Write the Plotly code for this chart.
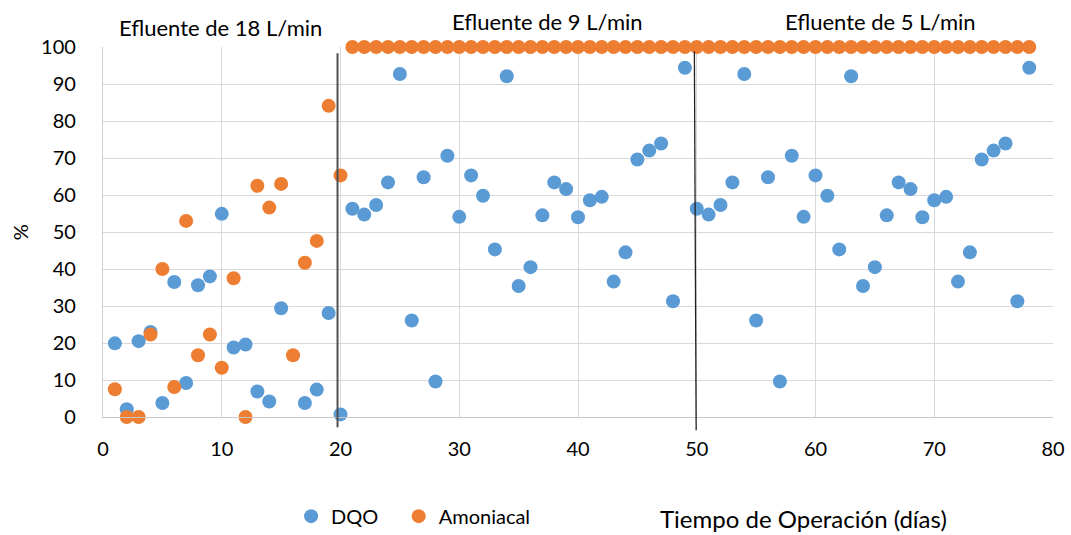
import plotly.graph_objects as go

days = list(range(1, 79))

dqo = [19.9, 2.1, 20.5, 23.0, 3.8, 36.5, 9.2, 35.6, 38.0, 54.9,
       18.8, 19.6, 6.9, 4.2, 29.4, None, 3.8, 7.4, 28.1, 0.7,
       56.3, 54.7, 57.3, 63.4, 92.7, 26.1, 64.8, 9.6, 70.6, 54.1,
       65.3, 59.8, 45.3, 92.1, 35.4, 40.5, 54.5, 63.4, 61.6, 54.0,
       58.6, 59.5, 36.6, 44.5, 69.6, 72.0, 73.9, 31.3, 94.4,
       56.3, 54.7, 57.3, 63.4, 92.7, 26.1, 64.8, 9.6, 70.6, 54.1,
       65.3, 59.8, 45.3, 92.1, 35.4, 40.5, 54.5, 63.4, 61.6, 54.0,
       58.6, 59.5, 36.6, 44.5, 69.6, 72.0, 73.9, 31.3, 94.4]

amoniacal = [7.5, 0.0, 0.0, 22.3, 40.0, 8.1, 53.0, 16.7, 22.3, 13.3,
             37.5, 0.0, 62.5, 56.6, 63.0, 16.7, 41.7, 47.6, 84.1, 65.3,
             100, 100, 100, 100, 100, 100, 100, 100, 100, 100,
             100, 100, 100, 100, 100, 100, 100, 100, 100, 100,
             100, 100, 100, 100, 100, 100, 100, 100, 100, 100,
             100, 100, 100, 100, 100, 100, 100, 100, 100, 100,
             100, 100, 100, 100, 100, 100, 100, 100, 100, 100,
             100, 100, 100, 100, 100, 100, 100, 100]

x_ticks = [0, 10, 20, 30, 40, 50, 60, 70, 80]
y_ticks = [0, 10, 20, 30, 40, 50, 60, 70, 80, 90, 100]

labels = ["Efluente de 18 L/min", "Efluente de 9 L/min", "Efluente de 5 L/min"]
label_x = [9.9, 37.4, 65.5]
label_y = [1.053, 1.070, 1.070]

FONT = "Lato"
BLUE = "#5B9BD5"
ORANGE = "#ED7D31"

fig = go.Figure()
fig.add_trace(go.Scatter(x=days, y=dqo, mode="markers", name="DQO\u00a0\u00a0\u00a0",
                         marker=dict(color=BLUE, size=14, line=dict(width=0)),
                         cliponaxis=False))
fig.add_trace(go.Scatter(x=days, y=amoniacal, mode="markers", name="Amoniacal",
                         marker=dict(color=ORANGE, size=14, line=dict(width=0)),
                         cliponaxis=False))

fig.add_shape(type="line", xref="x", yref="paper", x0=19.75, x1=19.75, y0=0.983, y1=-0.028,
              line=dict(color="#505050", width=2))
fig.add_shape(type="line", xref="x", yref="paper", x0=49.8, x1=49.95, y0=0.988, y1=-0.036,
              line=dict(color="#202020", width=1.3))

for t, lx, ly in zip(labels, label_x, label_y):
    fig.add_annotation(text=t, x=lx, y=ly, xref="x", yref="paper", showarrow=False,
                       xanchor="center", yanchor="middle",
                       font=dict(family=FONT, size=22, color="#000000"))

fig.add_annotation(text="Tiempo de Operación (días)", x=0.737, y=-0.274, xref="paper", yref="paper",
                   xanchor="center", yanchor="middle",
                   showarrow=False, font=dict(family=FONT, size=24, color="#000000"))

fig.add_annotation(text="%", x=-0.087, y=0.5, xref="paper", yref="paper", textangle=-90,
                   xanchor="center", yanchor="middle",
                   showarrow=False, font=dict(family=FONT, size=20, color="#000000"))

fig.update_layout(
    width=1071, height=535,
    margin=dict(l=103, r=18, t=47, b=118, autoexpand=False),
    paper_bgcolor="white", plot_bgcolor="white",
    font=dict(family=FONT, size=20, color="#000000"),
    showlegend=True,
    legend=dict(orientation="h", x=0.198, y=-0.268, xanchor="left", yanchor="middle",
                font=dict(family=FONT, size=20), itemwidth=30,
                bgcolor="rgba(0,0,0,0)"),
    xaxis=dict(range=[0, 80], tickvals=x_ticks, ticktext=[str(v) for v in x_ticks],
               showgrid=True, gridcolor="#d9d9d9", gridwidth=1.3, automargin=False,
               showline=True, linecolor="#c8c8c8", linewidth=1.3, zeroline=False,
               ticks="outside", ticklen=14, tickcolor="rgba(0,0,0,0)",
               tickfont=dict(family=FONT, size=20)),
    yaxis=dict(range=[0, 100], tickvals=y_ticks, ticktext=[str(v) for v in y_ticks],
               showgrid=True, gridcolor="#d9d9d9", gridwidth=1.3, automargin=False,
               showline=True, linecolor="#d0d0d0", linewidth=1.3, zeroline=False,
               ticks="outside", ticklen=22, tickcolor="rgba(0,0,0,0)",
               tickfont=dict(family=FONT, size=20)),
)

fig.write_html("out.html", config={"displayModeBar": False},
               post_script="document.body.style.margin='0';document.body.style.overflow='hidden';")
